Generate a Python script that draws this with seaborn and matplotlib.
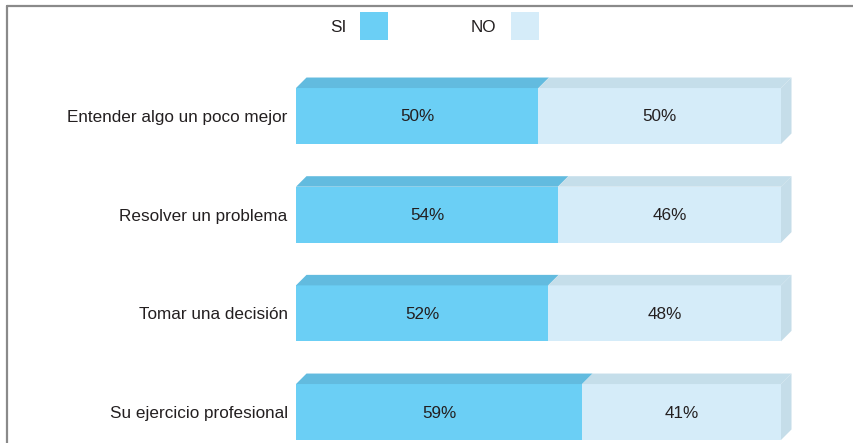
import matplotlib
matplotlib.use("Agg")
import matplotlib.pyplot as plt
from matplotlib.patches import Polygon, Rectangle
from matplotlib.transforms import IdentityTransform
from matplotlib.lines import Line2D
import seaborn as sns
import pandas as pd

categories = ["Entender algo un poco mejor", "Resolver un problema",
              "Tomar una decisión", "Su ejercicio profesional"]
si_values = [50, 54, 52, 59]
no_values = [50, 46, 48, 41]
series_names = ["SI", "NO"]

SI_FRONT = "#6BCFF5"
SI_TOP = "#62BBDF"
NO_FRONT = "#D5ECF9"
NO_TOP = "#C5DEEA"
NO_SIDE = "#C5DDE9"
TEXT = "#231F20"
FS = 12.3

sns.set_theme(style="white")
plt.rcParams["font.family"] = ["Liberation Sans", "DejaVu Sans"]

W, H = 854, 443
fig = plt.figure(figsize=(W / 100, H / 100), dpi=100)
fig.patch.set_facecolor("white")

# axes placed so that 0..100 % spans the bar front faces
x0_px, x1_px = 296, 781
top_px = 116 - 98.67 * 0.5
ax = fig.add_axes([x0_px / W, 0, (x1_px - x0_px) / W, (H - top_px) / H])

df = pd.DataFrame({"cat": categories, "SI": si_values, "NO": no_values})
df["total"] = df["SI"] + df["NO"]

bar_w = 0.567
sns.barplot(data=df, x="total", y="cat", color=NO_FRONT, saturation=1,
            width=bar_w, ax=ax, orient="h", linewidth=0)
sns.barplot(data=df, x="SI", y="cat", color=SI_FRONT, saturation=1,
            width=bar_w, ax=ax, orient="h", linewidth=0)

ax.set_xlim(0, 100)
ax.set_ylim(3.314, -0.5)
ax.set_xlabel("")
ax.set_ylabel("")
ax.set_xticks([])
sns.despine(ax=ax, left=True, bottom=True)
ax.tick_params(axis="y", length=0, pad=6, labelsize=FS, labelcolor=TEXT)
ax.set_facecolor("none")

# extruded top and side faces, built in pixel space from the bar geometry
d = 10.5
fig.canvas.draw()
td = ax.transData
for i, (si, no) in enumerate(zip(si_values, no_values)):
    y_top = i - bar_w / 2
    total = si + no
    (ax0, ay), = td.transform([(0, y_top)])
    (sx, _), = td.transform([(si, y_top)])
    (tx, _), = td.transform([(total, y_top)])
    (_, by), = td.transform([(0, i + bar_w / 2)])
    faces = [
        ([(ax0, ay), (sx, ay), (sx + d, ay + d), (ax0 + d, ay + d)], SI_TOP),
        ([(sx, ay), (tx, ay), (tx + d, ay + d), (sx + d, ay + d)], NO_TOP),
        ([(tx, ay), (tx + d, ay + d), (tx + d, by + d), (tx, by)], NO_SIDE),
    ]
    for pts, col in faces:
        fig.add_artist(Polygon(pts, closed=True, facecolor=col, edgecolor="none",
                               transform=IdentityTransform()))
    ax.text(si / 2, i + 0.01, f"{si}%", ha="center", va="center",
            fontsize=FS, color=TEXT)
    ax.text(si + no / 2, i + 0.01, f"{no}%", ha="center", va="center",
            fontsize=FS, color=TEXT)

# legend row
def px(x, y):
    return x / W, 1 - y / H

fig.text(*px(338, 27), series_names[0], ha="center", va="center",
         fontsize=FS, color=TEXT)
fig.text(*px(483, 27), series_names[1], ha="center", va="center",
         fontsize=FS, color=TEXT)
for xl, col in [(360, SI_FRONT), (511, NO_FRONT)]:
    fig.add_artist(Rectangle(px(xl, 40), 28 / W, 28 / H, facecolor=col,
                             edgecolor="none", transform=fig.transFigure))

# frame lines along top and left
fig.add_artist(Line2D([7 / W, 1], [1 - 5.5 / H] * 2, color="#8A8A8A", lw=1.6,
                      transform=fig.transFigure))
fig.add_artist(Line2D([7 / W] * 2, [0, 1 - 5.5 / H], color="#8A8A8A", lw=1.6,
                      transform=fig.transFigure))

fig.savefig("out.png", dpi=100)
